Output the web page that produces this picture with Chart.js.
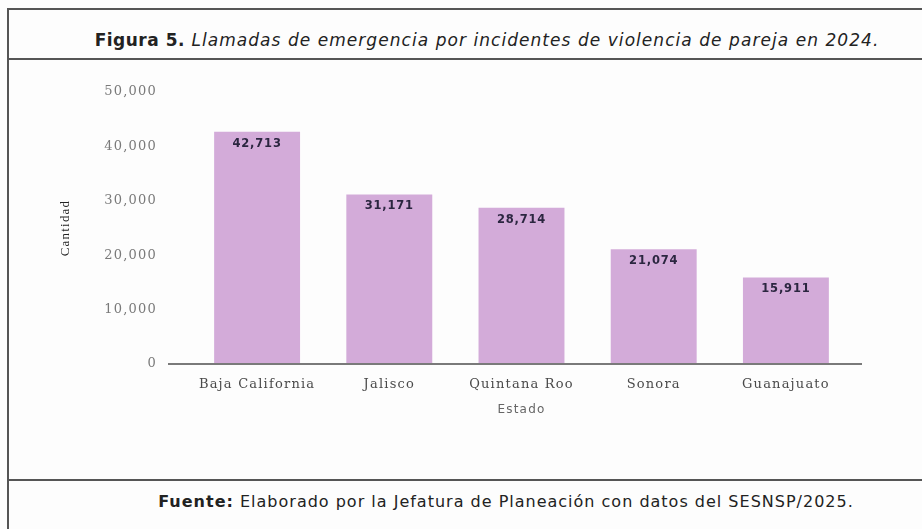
<!DOCTYPE html>
<html>
<head>
<meta charset="utf-8">
<script src="https://cdn.jsdelivr.net/npm/chart.js@4.4.1/dist/chart.umd.min.js"></script>
<style>
  html, body { margin: 0; padding: 0; background: #fdfdfd; }
  .page { position: relative; width: 922px; height: 529px; overflow: hidden; }
  .frame { position: absolute; left: 7px; top: 8px; width: 930px; height: 540px; border: 2px solid #555; box-sizing: border-box; }
  .hline { position: absolute; left: 7px; width: 930px; height: 0; border-top: 2px solid #555; }
  .title { position: absolute; left: 52px; right: 0; top: 30px; text-align: center; font-family: "DejaVu Sans", sans-serif; font-size: 17px; letter-spacing: 1.05px; color: #222; }
  .title b { font-weight: 700; letter-spacing: 0.5px; }
  .title i { font-style: italic; }
  .footer { position: absolute; left: 90px; right: 0; top: 492px; text-align: center; font-family: "DejaVu Sans", sans-serif; font-size: 16px; letter-spacing: 1px; color: #222; }
  canvas { position: absolute; left: 0; top: 0; }
</style>
</head>
<body>
<div class="page">
  <div class="frame"></div>
  <div class="hline" style="top:58px"></div>
  <div class="hline" style="top:479px"></div>
  <div class="title"><b>Figura 5.</b> <i>Llamadas de emergencia por incidentes de violencia de pareja en 2024.</i></div>
  <div class="footer"><b>Fuente:</b> Elaborado por la Jefatura de Planeación con datos del SESNSP/2025.</div>
  <canvas id="myChart" width="922" height="529"></canvas>
</div>
<script>
// data
const estados = ['Baja California', 'Jalisco', 'Quintana Roo', 'Sonora', 'Guanajuato'];
const llamadas = [42713, 31171, 28714, 21074, 15911];
const yMax = 50000;
const yStep = 10000;

// the scanned chart has slightly spaced axis text
const spacing = {
    id: 'spacing',
    beforeDraw(chart) {
        chart.ctx.letterSpacing = '1.2px';
    }
};

// labels on top of each bar
const barLabels = {
    id: 'barLabels',
    afterDatasetsDraw(chart) {
        const ctx = chart.ctx;
        const meta = chart.getDatasetMeta(0);
        ctx.save();
        ctx.letterSpacing = '0.8px';
        ctx.font = 'bold 11.5px "DejaVu Sans", sans-serif';
        ctx.fillStyle = '#2b2640';
        ctx.textAlign = 'center';
        ctx.textBaseline = 'middle';
        meta.data.forEach((bar, i) => {
            ctx.fillText(llamadas[i].toLocaleString('en-US'), bar.x, bar.y + 12);
        });
        ctx.restore();
    }
};

// baseline that runs a bit past the plot area on the left
const baseLine = {
    id: 'baseLine',
    afterDatasetsDraw(chart) {
        const ctx = chart.ctx;
        const y = chart.scales.y.getPixelForValue(0);
        ctx.save();
        ctx.strokeStyle = '#7a7a7a';
        ctx.lineWidth = 2;
        ctx.beginPath();
        ctx.moveTo(chart.chartArea.left - 23, y);
        ctx.lineTo(chart.chartArea.right + 10, y);
        ctx.stroke();
        ctx.restore();
    }
};

new Chart(document.getElementById('myChart').getContext('2d'), {
    type: 'bar',
    data: {
        labels: estados,
        datasets: [{
            data: llamadas,
            backgroundColor: '#d3abd9',
            categoryPercentage: 1,
            barPercentage: 0.65
        }]
    },
    options: {
        responsive: false,
        animation: false,
        layout: { padding: { left: 55, right: 70, top: 92, bottom: 109 } },
        plugins: { legend: { display: false }, tooltip: { enabled: false } },
        scales: {
            x: {
                grid: { display: false },
                border: { display: false },
                ticks: { color: '#4a4a4a', padding: 5, font: { family: '"DejaVu Serif", serif', size: 13 } },
                title: { display: true, text: 'Estado', color: '#666', padding: 3, font: { family: '"DejaVu Sans", sans-serif', size: 12 } },
                afterFit(scale) { scale.height = 56; }
            },
            y: {
                min: 0,
                max: yMax,
                grid: { display: false },
                border: { display: false },
                ticks: {
                    stepSize: yStep,
                    color: '#7a7a7a',
                    padding: 26,
                    font: { family: '"DejaVu Serif", serif', size: 13 },
                    callback: v => v.toLocaleString('en-US')
                },
                title: { display: true, text: 'Cantidad', color: '#222', padding: 3, font: { family: '"Liberation Serif", serif', size: 13 } },
                afterFit(scale) { scale.width = 136; }
            }
        }
    },
    plugins: [spacing, barLabels, baseLine]
});
</script>
</body>
</html>
